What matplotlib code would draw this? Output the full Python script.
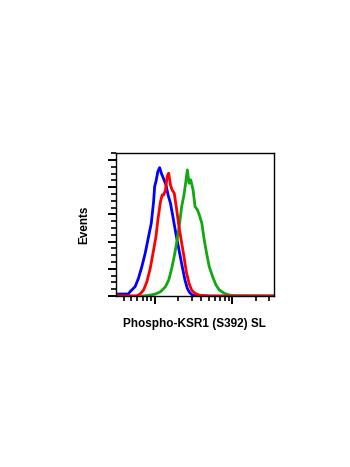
import numpy as np
import matplotlib
matplotlib.use("Agg")
import matplotlib.pyplot as plt
from matplotlib.ticker import LogLocator, MultipleLocator, NullFormatter

# fluorescence intensity (log axis) and event counts
blue_x = [3.07, 4.58, 4.82, 5.60, 6.18, 6.84, 7.55, 8.35, 9.05, 9.70, 10.0, 10.4,
          11.0, 11.6, 12.2, 13.1, 14.0, 14.9, 16.0, 17.2, 18.6, 20.6, 22.7, 24.6,
          26.4, 28.3, 30.7, 35.7, 50.6, 346]
blue_y = [1.5, 1.5, 3.2, 6.9, 13.0, 21.6, 31.4, 43.7, 53.5, 69.4, 80.5, 84.1,
          91.5, 94.4, 90.3, 85.9, 81.7, 74.3, 68.2, 58.4, 47.3, 33.9, 21.6, 11.8,
          5.6, 2.5, 0.7, 0.3, 0.0, 0.0]

red_x = [3.07, 3.39, 5.89, 6.51, 7.19, 7.94, 8.78, 9.70, 10.4, 11.0, 11.9, 12.5,
         13.1, 13.8, 14.5, 15.2, 16.0, 16.8, 17.9, 19.0, 20.6, 22.0, 23.9, 25.6,
         27.8, 30.0, 33.2, 37.5, 50.6, 346]
red_y = [2.0, 0.2, 0.2, 1.5, 4.4, 10.5, 20.4, 33.9, 43.7, 55.9, 69.4, 74.3,
         74.3, 78.0, 87.8, 90.3, 81.7, 78.0, 75.6, 65.7, 51.0, 41.2, 28.9, 17.9,
         9.3, 4.4, 2.0, 0.7, 0.0, 0.0]

green_x = [6.84, 8.35, 10.2, 11.9, 13.8, 15.2, 16.8, 18.2, 19.5, 21.0, 22.3, 23.9,
           25.1, 26.4, 27.8, 29.2, 31.3, 33.2, 35.7, 38.3, 40.6, 43.6, 46.8, 50.6,
           56.0, 61.8, 68.4, 79.4, 92.3, 112.8, 346]
green_y = [0.0, 0.5, 1.5, 3.2, 6.9, 11.8, 21.6, 31.4, 41.2, 53.5, 65.7, 74.3,
           82.9, 92.7, 82.9, 85.4, 78.0, 65.7, 63.3, 58.4, 53.5, 41.2, 31.4, 21.6,
           14.2, 8.1, 4.4, 2.0, 0.7, 0.2, 0.0]

plt.rcParams['font.family'] = ['Liberation Sans', 'DejaVu Sans']

fig = plt.figure(figsize=(3.5, 4.67), dpi=100)
ax = fig.add_axes([0.331, 0.366, 0.451, 0.306])

ax.plot(blue_x, blue_y, color='#0000ff', lw=2.0)
ax.plot(green_x, green_y, color='#12a812', lw=2.0)
ax.plot(red_x, red_y, color='#ff0000', lw=2.0)

ax.set_xscale('log')
ax.set_xlim(10 ** 0.5, 10 ** 2.535)
ax.set_ylim(0, 105)

ax.xaxis.set_major_locator(LogLocator(base=10, numticks=10))
ax.xaxis.set_minor_locator(LogLocator(base=10, subs=np.arange(2, 10), numticks=20))
ax.xaxis.set_major_formatter(NullFormatter())
ax.xaxis.set_minor_formatter(NullFormatter())
ax.yaxis.set_major_locator(MultipleLocator(20))
ax.yaxis.set_minor_locator(MultipleLocator(5))
ax.yaxis.set_major_formatter(NullFormatter())

ax.tick_params(which='major', length=6, width=1.4, direction='out')
ax.tick_params(which='minor', length=3.5, width=1.2, direction='out')
for s in ax.spines.values():
    s.set_linewidth(1.0)

ax.set_ylabel('Events', fontsize=8.5, fontweight='bold')
ax.yaxis.set_label_coords(-0.16, 0.5)
ax.set_xlabel('Phospho-KSR1 (S392) SL', fontsize=8.5, fontweight='bold')
ax.xaxis.set_label_coords(0.5, -0.15)

fig.savefig('out.png', dpi=100)
